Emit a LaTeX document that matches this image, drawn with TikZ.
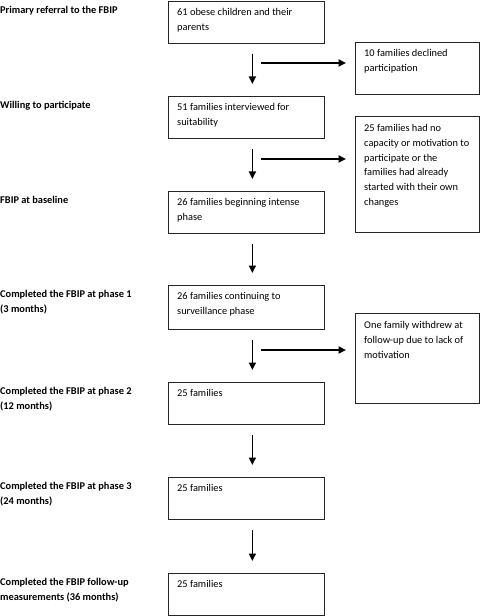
\documentclass[tikz,border=0pt]{standalone}
\usepackage{fontspec}
\setmainfont{Carlito}
\usetikzlibrary{arrows.meta}

\begin{document}
\begin{tikzpicture}[x=1bp, y=-1bp,
    stage/.style={draw=black!85, line width=0.8bp, anchor=north west, minimum width=156bp, minimum height=42bp, inner sep=0pt},
    sidebox/.style={draw=black!85, line width=0.8bp, anchor=north west, minimum width=124bp, inner sep=0pt},
    boxtext/.style={anchor=north west, align=left, inner sep=0pt, font=\fontsize{10.4}{14.7}\selectfont},
    phase/.style={anchor=north west, align=left, inner sep=0pt, font=\fontsize{10.4}{14.7}\selectfont\bfseries},
    arr/.style={line width=1.5bp, -{Triangle[width=7bp,length=7.5bp]}}]
        \useasboundingbox (0,0) rectangle (480,616);

        % main column
        \node[stage] (b1) at (168,1) {};
        \node[stage] (b2) at (168,96) {};
        \node[stage] (b3) at (168,191) {};
        \node[stage, minimum height=44bp] (b4) at (168,285) {};
        \node[stage] (b5) at (168,382) {};
        \node[stage] (b6) at (168,477) {};
        \node[stage] (b7) at (168,573) {};

        \node[boxtext] (t1) at (177,8.5) {61 obese children and their\\parents};
        \node[boxtext] (t2) at (177,103.5) {51 families interviewed for\\suitability};
        \node[boxtext] (t3) at (177,198.5) {26 families beginning intense\\phase};
        \node[boxtext] (t4) at (177,292.5) {26 families continuing to\\surveillance phase};
        \node[boxtext] (t5) at (177,389.5) {25 families};
        \node[boxtext] (t6) at (177,484.5) {25 families};
        \node[boxtext] (t7) at (177,580.5) {25 families};

        % excluded
        \node[sidebox, minimum height=52bp] (s1) at (355,42) {};
        \node[sidebox, minimum height=116bp] (s2) at (355,116) {};
        \node[sidebox, minimum height=90bp] (s3) at (355,313) {};

        \node[boxtext] (u1) at (364,49.5) {10 families declined\\participation};
        \node[boxtext] (u2) at (364,124.5) {25 families had no\\capacity or motivation to\\participate or the\\families had already\\started with their own\\changes};
        \node[boxtext] (u3) at (364,321.5) {One family withdrew at\\follow-up due to lack of\\motivation};

        % phases
        \node[phase] (p1) at (0,6.5) {Primary referral to the FBIP};
        \node[phase] (p2) at (0,101.5) {Willing to participate};
        \node[phase] (p3) at (0,196.5) {FBIP at baseline};
        \node[phase] (p4) at (0,290.5) {Completed the FBIP at phase 1\\(3 months)};
        \node[phase] (p5) at (0,387.5) {Completed the FBIP at phase 2\\(12 months)};
        \node[phase] (p6) at (0,482.5) {Completed the FBIP at phase 3\\(24 months)};
        \node[phase] (p7) at (0,578.5) {Completed the FBIP follow-up\\measurements (36 months)};

        % arrows
        \foreach \a/\b in {b1/b2, b2/b3, b3/b4, b4/b5, b5/b6, b6/b7}
            \draw[arr, shorten <=10bp, shorten >=12bp] ([xshift=6bp]\a.south) -- ([xshift=6bp]\b.north);

        \coordinate (m1) at (261,63);
        \coordinate (m2) at (261,159);
        \coordinate (m3) at (261,350);
        \draw[arr, line width=1.8bp, shorten >=9bp] (m1) -- (m1 -| s1.west);
        \draw[arr, line width=1.8bp, shorten >=9bp] (m2) -- (m2 -| s2.west);
        \draw[arr, line width=1.8bp, shorten >=9bp] (m3) -- (m3 -| s3.west);
\end{tikzpicture}
\end{document}
